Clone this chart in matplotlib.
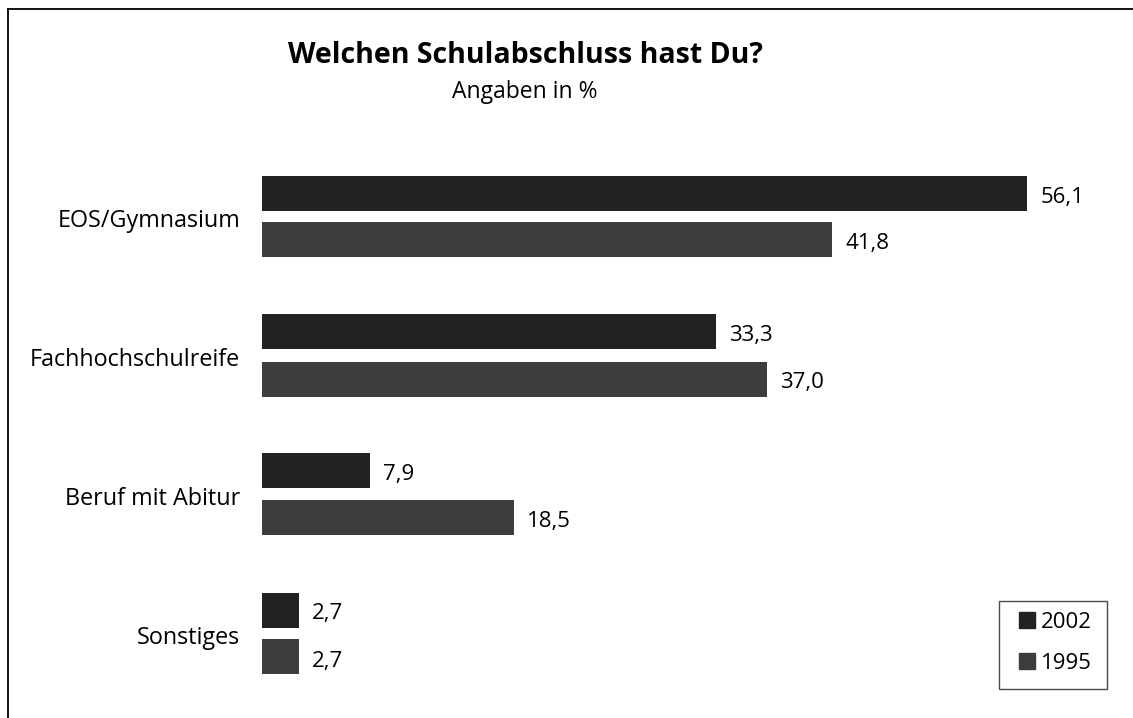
import numpy as np
import matplotlib
matplotlib.use("Agg")
import matplotlib.pyplot as plt
from matplotlib.lines import Line2D
from matplotlib.patches import Patch, Rectangle

plt.rcParams['font.family'] = ['Open Sans', 'DejaVu Sans']

categories = ["EOS/Gymnasium", "Fachhochschulreife", "Beruf mit Abitur", "Sonstiges"]
values_2002 = [56.1, 33.3, 7.9, 2.7]
values_1995 = [41.8, 37.0, 18.5, 2.7]
series_names = ["2002", "1995"]
labels_2002 = ["56,1", "33,3", "7,9", "2,7"]
labels_1995 = ["41,8", "37,0", "18,5", "2,7"]

c2002 = "#222222"
c1995 = "#3d3d3d"

W, H = 1133, 718
fig = plt.figure(figsize=(W / 100, H / 100), dpi=100)
ax = fig.add_axes([0, 0, 1, 1])

# pixel mapping: x=0 at px 262, 13.64 px per unit; groups 139 px apart, first at px 216.5
xs = 13.64
ys = 139.0
ax.set_xlim(-262 / xs, (W - 262) / xs)
ax.set_ylim((H - 216.5) / ys, -216.5 / ys)
ax.axis("off")

pos = np.arange(len(categories))
off = 23.5 / ys
bh = 35 / ys
ax.barh(pos - off, values_2002, height=bh, color=c2002)
ax.barh(pos + off, values_1995, height=bh, color=c1995)

for i, cat in enumerate(categories):
    ax.text(-22 / xs, pos[i] + 10.5 / ys, cat, ha="right", va="baseline", fontsize=16.8)
    ax.text(values_2002[i] + 13 / xs, pos[i] - off + 9.5 / ys, labels_2002[i],
            ha="left", va="baseline", fontsize=16)
    ax.text(values_1995[i] + 13 / xs, pos[i] + off + 9.5 / ys, labels_1995[i],
            ha="left", va="baseline", fontsize=16)

fig.text(525 / W, 1 - 63 / H, "Welchen Schulabschluss hast Du?", ha="center",
         va="baseline", fontsize=20.5, fontweight="bold")
fig.text(525 / W, 1 - 98 / H, "Angaben in %", ha="center", va="baseline", fontsize=16.5)

# frame lines
fig.add_artist(Line2D([8 / W, 8 / W], [0, 1 - 9 / H], color="black", lw=1.3))
fig.add_artist(Line2D([8 / W, 1], [1 - 9 / H, 1 - 9 / H], color="black", lw=1.3))

# legend box
fig.add_artist(Rectangle((999 / W, 1 - 689 / H), 108 / W, 88 / H, transform=fig.transFigure,
                         fill=False, edgecolor="#4a4a4a", lw=1.0))
handles = [Patch(color=c2002), Patch(color=c1995)]
leg = fig.legend(handles, series_names, loc="center left",
                 bbox_to_anchor=(1012 / W, 1 - 643 / H), borderaxespad=0,
                 fontsize=16, handlelength=0.75, handleheight=0.75,
                 handletextpad=0.25, labelspacing=0.9, borderpad=0.3,
                 frameon=False)

fig.savefig("out.png", dpi=100)
